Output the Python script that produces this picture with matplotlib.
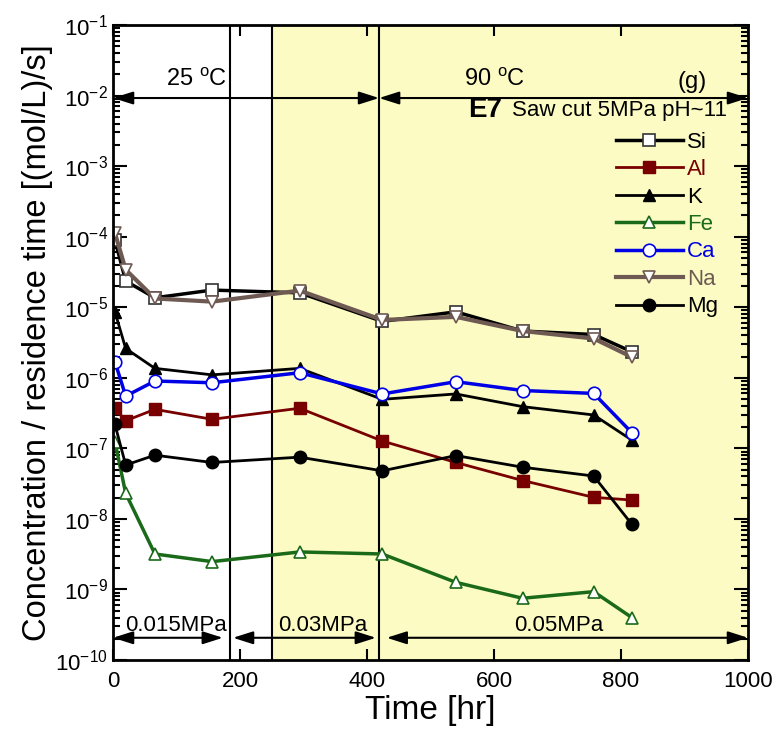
import matplotlib
matplotlib.use('Agg')
import matplotlib.pyplot as plt
from matplotlib.ticker import FixedLocator, FixedFormatter, LogLocator, NullFormatter

plt.rcParams['font.family'] = ['Liberation Sans', 'DejaVu Sans']
plt.rcParams['mathtext.fontset'] = 'custom'
plt.rcParams['mathtext.rm'] = 'Liberation Sans'
plt.rcParams['mathtext.it'] = 'Liberation Sans:italic'
plt.rcParams['mathtext.bf'] = 'Liberation Sans:bold'

# Sampling times [hr]
time_hr = [3, 20, 66, 156, 294, 424, 540, 645, 757, 817]

# Concentration / residence time [(mol/L)/s]
si = [9.0e-5, 2.35e-5, 1.36e-5, 1.75e-5, 1.6e-5, 6.3e-6, 8.6e-6, 4.6e-6, 4.1e-6, 2.34e-6]
al = [3.7e-7, 2.46e-7, 3.57e-7, 2.58e-7, 3.7e-7, 1.27e-7, 6.3e-8, 3.5e-8, 2.02e-8, 1.85e-8]
k = [8.6e-6, 2.6e-6, 1.36e-6, 1.1e-6, 1.36e-6, 4.95e-7, 5.9e-7, 3.9e-7, 2.97e-7, 1.31e-7]
fe = [1.24e-7, 2.3e-8, 3.18e-9, 2.48e-9, 3.4e-9, 3.18e-9, 1.26e-9, 7.5e-10, 9.3e-10, 4.0e-10]
ca = [1.69e-6, 5.5e-7, 9.0e-7, 8.5e-7, 1.18e-6, 5.9e-7, 8.8e-7, 6.6e-7, 6.0e-7, 1.67e-7]
na = [1.13e-4, 3.4e-5, 1.33e-5, 1.2e-5, 1.72e-5, 6.6e-6, 7.3e-6, 4.6e-6, 3.6e-6, 1.97e-6]
mg = [2.19e-7, 5.8e-8, 8.0e-8, 6.3e-8, 7.5e-8, 4.8e-8, 7.9e-8, 5.4e-8, 4.05e-8, 8.4e-9]

x_ticks = [0, 200, 400, 600, 800, 1000]
y_ticks = [1e-10, 1e-9, 1e-8, 1e-7, 1e-6, 1e-5, 1e-4, 1e-3, 1e-2, 1e-1]
y_tick_labels = [r'$10^{-%d}$' % n for n in range(10, 0, -1)]

# Experimental stages
temp_change_hr = 419
press_change_1_hr = 184
heated_start_hr = 250

fig = plt.figure(figsize=(7.76, 7.38), dpi=100)
ax = fig.add_axes([113 / 776, 1 - 660 / 738, 635 / 776, 635 / 738])
ax.set_yscale('log')
ax.set_xlim(0, 1000)
ax.set_ylim(1e-10, 1e-1)

ax.axvspan(heated_start_hr, 1000, color='#fbfbc3', zorder=0, lw=0)
for xv in (press_change_1_hr, heated_start_hr, temp_change_hr):
    ax.axvline(xv, color='black', lw=1.5, zorder=1)

series = [
    ('Si', si, dict(color='black', lw=2.5, marker='s', mfc='white', mec='#333333', ms=9, mew=1.2), 6),
    ('Al', al, dict(color='#780000', lw=2.0, marker='s', mfc='#780000', mec='#780000', ms=9, mew=1.0), 4),
    ('K', k, dict(color='black', lw=2.0, marker='^', mfc='black', mec='black', ms=9, mew=1.0), 4),
    ('Fe', fe, dict(color='#1a6a1a', lw=2.5, marker='^', mfc='white', mec='#1a6a1a', ms=9, mew=1.2), 4),
    ('Ca', ca, dict(color='#0000e6', lw=2.5, marker='o', mfc='white', mec='#0000e6', ms=9, mew=1.2), 5),
    ('Na', na, dict(color='#6e5a52', lw=3.0, marker='v', mfc='white', mec='#6e5a52', ms=9, mew=1.2), 7),
    ('Mg', mg, dict(color='black', lw=2.0, marker='o', mfc='black', mec='black', ms=9, mew=1.0), 4),
]
handles = []
for name, vals, style, z in series:
    h, = ax.plot(time_hr, vals, label=name, zorder=z, **style)
    handles.append(h)

leg = ax.legend(handles=handles, loc='upper left', bbox_to_anchor=(0.792, 0.832),
                frameon=False, fontsize=16, handlelength=3.0, handletextpad=0.2,
                labelspacing=0.29, borderpad=0, borderaxespad=0)
for txt, (_, _, style, _) in zip(leg.get_texts(), series):
    txt.set_color(style['color'])

# Axes, ticks
ax.xaxis.set_major_locator(FixedLocator(x_ticks))
ax.yaxis.set_major_locator(FixedLocator(y_ticks))
ax.yaxis.set_major_formatter(FixedFormatter(y_tick_labels))
ax.yaxis.set_minor_locator(LogLocator(base=10, subs=range(2, 10), numticks=20))
ax.yaxis.set_minor_formatter(NullFormatter())
ax.tick_params(axis='both', which='both', direction='in', top=True, right=True, width=1.5)
ax.tick_params(axis='y', which='major', length=10)
ax.tick_params(axis='y', which='minor', length=5)
ax.tick_params(axis='x', which='major', length=8)
ax.tick_params(axis='both', which='major', labelsize=16)
ax.tick_params(axis='x', pad=8)
for sp in ax.spines.values():
    sp.set_linewidth(2)
    sp.set_zorder(10)

ax.set_xlabel('Time [hr]', fontsize=24, labelpad=2)
ax.set_ylabel('Concentration / residence time [(mol/L)/s]', fontsize=23.5, labelpad=2)

# Stage annotations
tr = ax.get_xaxis_transform()
arrow_kw = dict(arrowstyle='<|-|>,head_length=1.1,head_width=0.35', color='black',
                lw=1.5, shrinkA=0, shrinkB=0, mutation_scale=11)

ax.annotate('', xy=(0, 0.885), xytext=(temp_change_hr, 0.885), xycoords=tr, arrowprops=arrow_kw, zorder=8)
ax.annotate('', xy=(temp_change_hr, 0.885), xytext=(1000, 0.885), xycoords=tr, arrowprops=arrow_kw, zorder=8)
ax.text(180, 0.913, r'25 $^\mathrm{o}$C', transform=tr, ha='right', va='center', fontsize=17)
ax.text(601, 0.913, r'90 $^\mathrm{o}$C', transform=tr, ha='center', va='center', fontsize=17)
ax.text(912, 0.910, '(g)', transform=tr, ha='center', va='center', fontsize=17)

ax.text(0.967, 0.866, 'Saw cut 5MPa pH~11', transform=ax.transAxes, ha='right', va='center', fontsize=16)
ax.text(0.613, 0.866, 'E7', transform=ax.transAxes, ha='right', va='center', fontsize=20, fontweight='bold')

ax.annotate('', xy=(0, 0.035), xytext=(173, 0.035), xycoords=tr, arrowprops=arrow_kw, zorder=8)
ax.annotate('', xy=(189, 0.035), xytext=(414, 0.035), xycoords=tr, arrowprops=arrow_kw, zorder=8)
ax.annotate('', xy=(431, 0.035), xytext=(1000, 0.035), xycoords=tr, arrowprops=arrow_kw, zorder=8)
ax.text(99, 0.055, '0.015MPa', transform=tr, ha='center', va='center', fontsize=16)
ax.text(330, 0.055, '0.03MPa', transform=tr, ha='center', va='center', fontsize=16)
ax.text(702, 0.055, '0.05MPa', transform=tr, ha='center', va='center', fontsize=16)

fig.savefig('out.png', dpi=100)
